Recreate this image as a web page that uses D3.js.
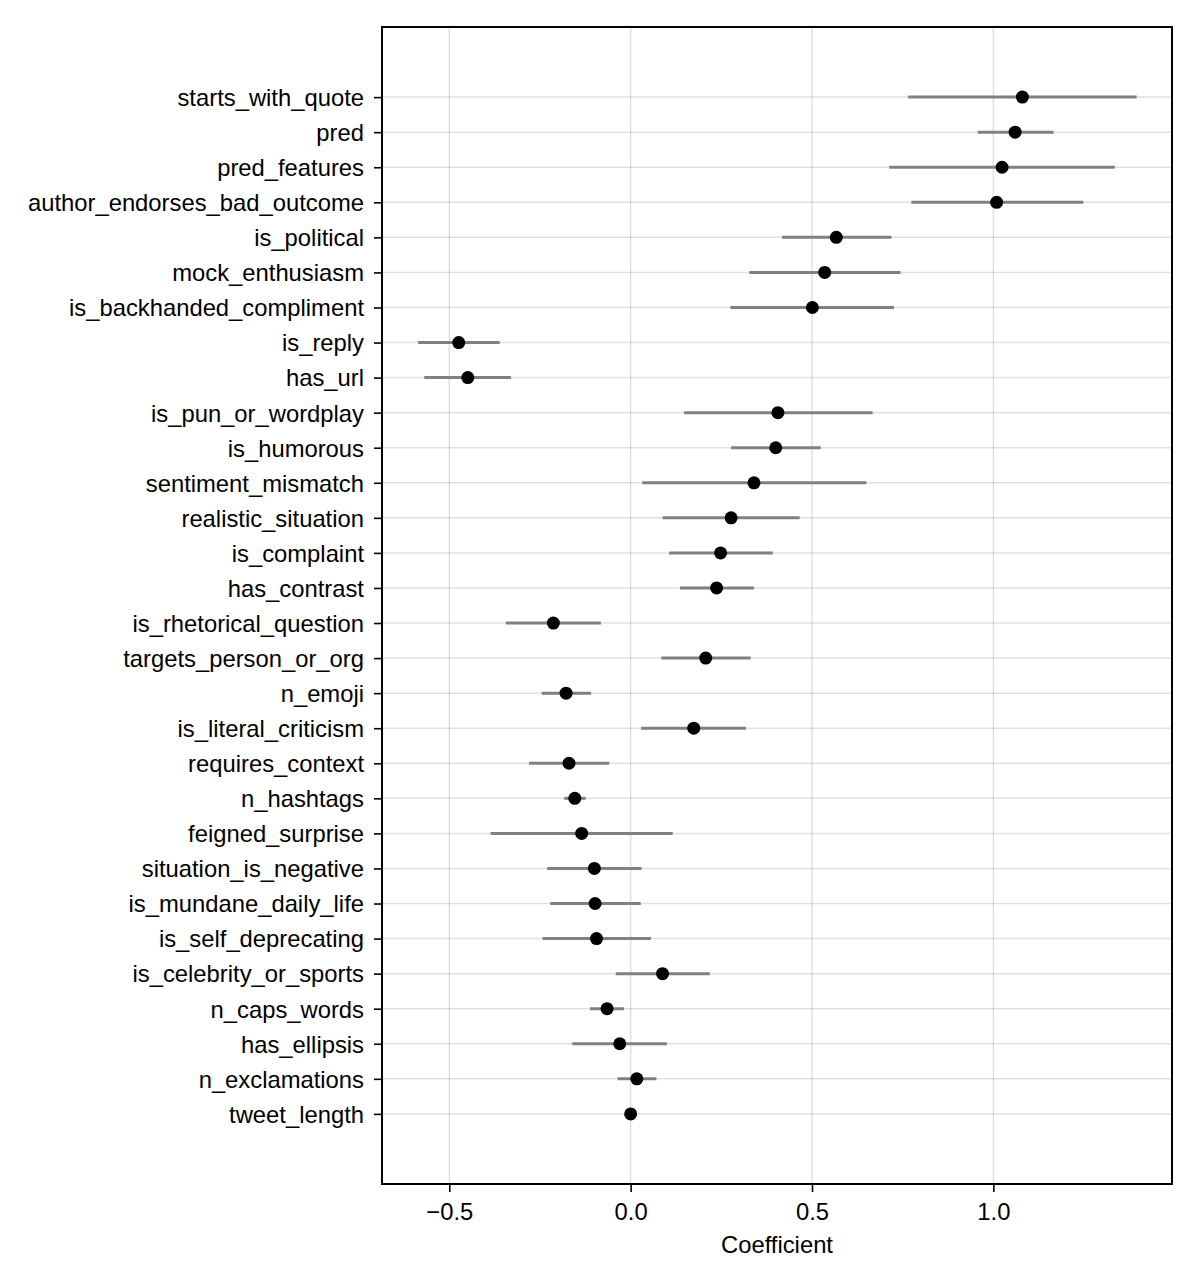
<!DOCTYPE html>
<html>
<head>
<meta charset="utf-8">
<script src="https://cdn.jsdelivr.net/npm/d3@7"></script>
<style>
  body { margin: 0; background: #fff; }
  svg { display: block; font-family: "Liberation Sans", Arial, sans-serif; }
</style>
</head>
<body>
<svg id="chart"></svg>
<script>
// Feature names, top to bottom
const features = [
  "starts_with_quote", "pred", "pred_features", "author_endorses_bad_outcome",
  "is_political", "mock_enthusiasm", "is_backhanded_compliment", "is_reply",
  "has_url", "is_pun_or_wordplay", "is_humorous", "sentiment_mismatch",
  "realistic_situation", "is_complaint", "has_contrast", "is_rhetorical_question",
  "targets_person_or_org", "n_emoji", "is_literal_criticism", "requires_context",
  "n_hashtags", "feigned_surprise", "situation_is_negative", "is_mundane_daily_life",
  "is_self_deprecating", "is_celebrity_or_sports", "n_caps_words", "has_ellipsis",
  "n_exclamations", "tweet_length"
];

// Point estimates
const coef = [
  1.080, 1.060, 1.024, 1.009,
  0.567, 0.535, 0.501, -0.474,
  -0.449, 0.406, 0.400, 0.340,
  0.277, 0.248, 0.237, -0.213,
  0.207, -0.178, 0.174, -0.170,
  -0.154, -0.135, -0.100, -0.098,
  -0.094, 0.088, -0.065, -0.030,
  0.017, 0.000
];

// Interval lower bounds
const lower = [
  0.765, 0.957, 0.713, 0.774,
  0.417, 0.327, 0.275, -0.586,
  -0.569, 0.147, 0.277, 0.032,
  0.088, 0.106, 0.136, -0.344,
  0.085, -0.245, 0.029, -0.280,
  -0.183, -0.386, -0.230, -0.222,
  -0.243, -0.041, -0.112, -0.161,
  -0.036, -0.003
];

// Interval upper bounds
const upper = [
  1.395, 1.166, 1.335, 1.248,
  0.719, 0.744, 0.726, -0.361,
  -0.330, 0.667, 0.524, 0.650,
  0.466, 0.392, 0.340, -0.082,
  0.331, -0.109, 0.318, -0.059,
  -0.124, 0.116, 0.030, 0.028,
  0.056, 0.218, -0.018, 0.100,
  0.071, 0.003
];

const xTicks = [-0.5, 0.0, 0.5, 1.0];

const width = 1200;
const height = 1285;
const margin = { top: 27, right: 28, bottom: 101, left: 382 };
const innerW = width - margin.left - margin.right;
const innerH = height - margin.top - margin.bottom;
const fontSize = "23.8px";

const rows = features.map((f, i) => ({ name: f, est: coef[i], lo: lower[i], hi: upper[i] }));

const svg = d3.select("#chart")
  .attr("width", width)
  .attr("height", height);

const g = svg.append("g")
  .attr("transform", `translate(${margin.left}, ${margin.top})`);

const x = d3.scaleLinear()
  .domain([-0.6855, 1.4925])
  .range([0, innerW]);

const y = d3.scalePoint()
  .domain(features)
  .range([0, innerH])
  .padding(2);

// Grid lines
g.append("g")
  .selectAll("line")
  .data(xTicks)
  .join("line")
  .attr("x1", d => x(d)).attr("x2", d => x(d))
  .attr("y1", 0).attr("y2", innerH)
  .attr("stroke", "#000").attr("stroke-opacity", 0.12)
  .attr("stroke-width", 1.5);

g.append("g")
  .selectAll("line")
  .data(features)
  .join("line")
  .attr("x1", 0).attr("x2", innerW)
  .attr("y1", d => y(d)).attr("y2", d => y(d))
  .attr("stroke", "#000").attr("stroke-opacity", 0.12)
  .attr("stroke-width", 1.5);

// Intervals
g.append("g")
  .selectAll("line")
  .data(rows)
  .join("line")
  .attr("x1", d => x(d.lo)).attr("x2", d => x(d.hi))
  .attr("y1", d => y(d.name)).attr("y2", d => y(d.name))
  .attr("stroke", "#808080")
  .attr("stroke-width", 3);

// Points
g.append("g")
  .selectAll("circle")
  .data(rows)
  .join("circle")
  .attr("cx", d => x(d.est))
  .attr("cy", d => y(d.name))
  .attr("r", 6.5)
  .attr("fill", "#000");

// Axes
const xAxis = g.append("g")
  .attr("transform", `translate(0, ${innerH})`)
  .call(d3.axisBottom(x).tickValues(xTicks).tickFormat(d3.format(".1f"))
    .tickSize(8).tickPadding(11).tickSizeOuter(0));

const yAxis = g.append("g")
  .call(d3.axisLeft(y).tickSize(8).tickPadding(10).tickSizeOuter(0));

[xAxis, yAxis].forEach(a => {
  a.select(".domain").remove();
  a.selectAll(".tick line").attr("stroke", "#000").attr("stroke-width", 1.6);
  a.selectAll(".tick text")
    .attr("fill", "#000")
    .style("font-family", "'Liberation Sans', Arial, sans-serif")
    .style("font-size", fontSize);
});
yAxis.selectAll(".tick text").attr("dy", "0.35em");

// Frame
g.append("rect")
  .attr("x", 0).attr("y", 0)
  .attr("width", innerW).attr("height", innerH)
  .attr("fill", "none")
  .attr("stroke", "#000")
  .attr("stroke-width", 2);

// Axis title
g.append("text")
  .attr("x", innerW / 2)
  .attr("y", innerH + 69)
  .attr("text-anchor", "middle")
  .style("font-size", fontSize)
  .attr("fill", "#000")
  .text("Coefficient");
</script>
</body>
</html>
